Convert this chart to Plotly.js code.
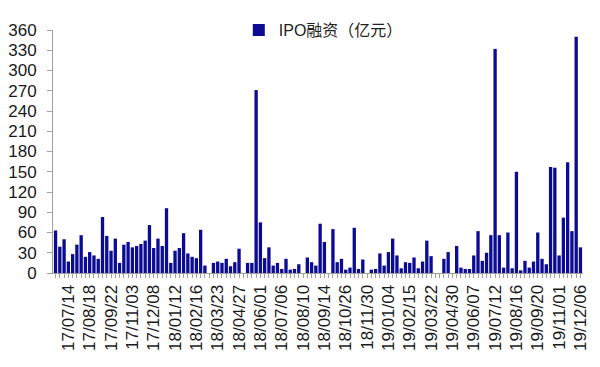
<!DOCTYPE html>
<html>
<head>
<meta charset="utf-8">
<script src="https://cdn.plot.ly/plotly-3.0.1.min.js"></script>
<style>
html,body{margin:0;padding:0;background:#fff;}
#chart{width:600px;height:367px;}
</style>
</head>
<body>
<div id="chart"></div>
<script>
// Weekly IPO financing (亿元)
const seriesName = 'IPO融资（亿元）';
const values = [
  63, 39, 50, 17, 28, 42, 56, 24, 31, 26,
  21, 83, 55, 33, 51, 15, 42, 46, 38, 40,
  43, 48, 71, 37, 51, 40, 96, 15, 33, 37,
  59, 29, 24, 22, 64, 11, 0, 15, 17, 15,
  21, 10, 16, 36, 0, 15, 15, 271, 75, 22,
  38, 11, 15, 6, 21, 5, 6, 13, 0, 23,
  16, 11, 73, 46, 0, 65, 16, 21, 5, 8,
  67, 6, 20, 0, 5, 6, 29, 11, 31, 51,
  26, 7, 16, 15, 23, 7, 17, 48, 25, 0,
  0, 21, 31, 0, 40, 8, 6, 6, 26, 62,
  18, 30, 56, 332, 56, 8, 60, 7, 150, 4,
  18, 8, 17, 60, 21, 13, 157, 156, 26, 82,
  164, 62, 350, 38
];
const tickLabels = [
  '17/07/14','17/08/18','17/09/22','17/11/03','17/12/08',
  '18/01/12','18/02/16','18/03/23','18/04/27','18/06/01',
  '18/07/06','18/08/10','18/09/14','18/10/26','18/11/30',
  '19/01/04','19/02/15','19/03/22','19/04/30','19/06/07',
  '19/07/12','19/08/16','19/09/20','19/11/01','19/12/06'
];
const yTicks = [0,30,60,90,120,150,180,210,240,270,300,330,360];

const xIdx = values.map((_, i) => i);
const tickPos = tickLabels.map((_, k) => 3 + 5 * k);

const trace = {
  type: 'bar',
  x: xIdx,
  y: values,
  name: seriesName,
  marker: {color: '#0B0B94', line: {width: 0}},
  showlegend: true,
  hoverinfo: 'y'
};

const layout = {
  width: 600,
  height: 367,
  margin: {l: 53, r: 17, t: 30, b: 94},
  paper_bgcolor: '#ffffff',
  plot_bgcolor: '#ffffff',
  bargap: 0.22,
  font: {family: 'Arial, "Liberation Sans", "Noto Sans CJK SC", sans-serif', color: '#222'},
  showlegend: true,
  legend: {
    orientation: 'h',
    x: 0.51, xanchor: 'center',
    y: 1.0, yanchor: 'middle',
    font: {size: 16, family: 'Arial, "Liberation Sans", "Noto Sans CJK SC", sans-serif', color: '#222'},
    bgcolor: 'rgba(0,0,0,0)',
    itemwidth: 30
  },
  xaxis: {
    range: [-0.6, values.length - 0.4],
    tickmode: 'array',
    tickvals: tickPos,
    ticktext: tickLabels,
    tickangle: -90,
    ticks: 'outside',
    ticklen: 4,
    tickcolor: '#A0A0A0',
    tickfont: {size: 17, color: '#1a1a1a'},
    showline: true,
    linecolor: '#A0A0A0',
    linewidth: 1,
    showgrid: false,
    zeroline: false,
    minor: {dtick: 1, tick0: 0, ticks: 'outside', ticklen: 4, tickcolor: '#A0A0A0', showgrid: false}
  },
  yaxis: {
    range: [0, 360],
    tickmode: 'array',
    tickvals: yTicks,
    ticktext: yTicks.map(String),
    ticks: 'outside',
    ticklen: 5,
    tickcolor: '#A0A0A0',
    tickfont: {size: 17, color: '#1a1a1a'},
    ticklabelstandoff: 7,
    showline: true,
    linecolor: '#A0A0A0',
    linewidth: 1,
    showgrid: false,
    zeroline: false
  }
};

Plotly.newPlot('chart', [trace], layout, {displayModeBar: false, staticPlot: true});
</script>
</body>
</html>
